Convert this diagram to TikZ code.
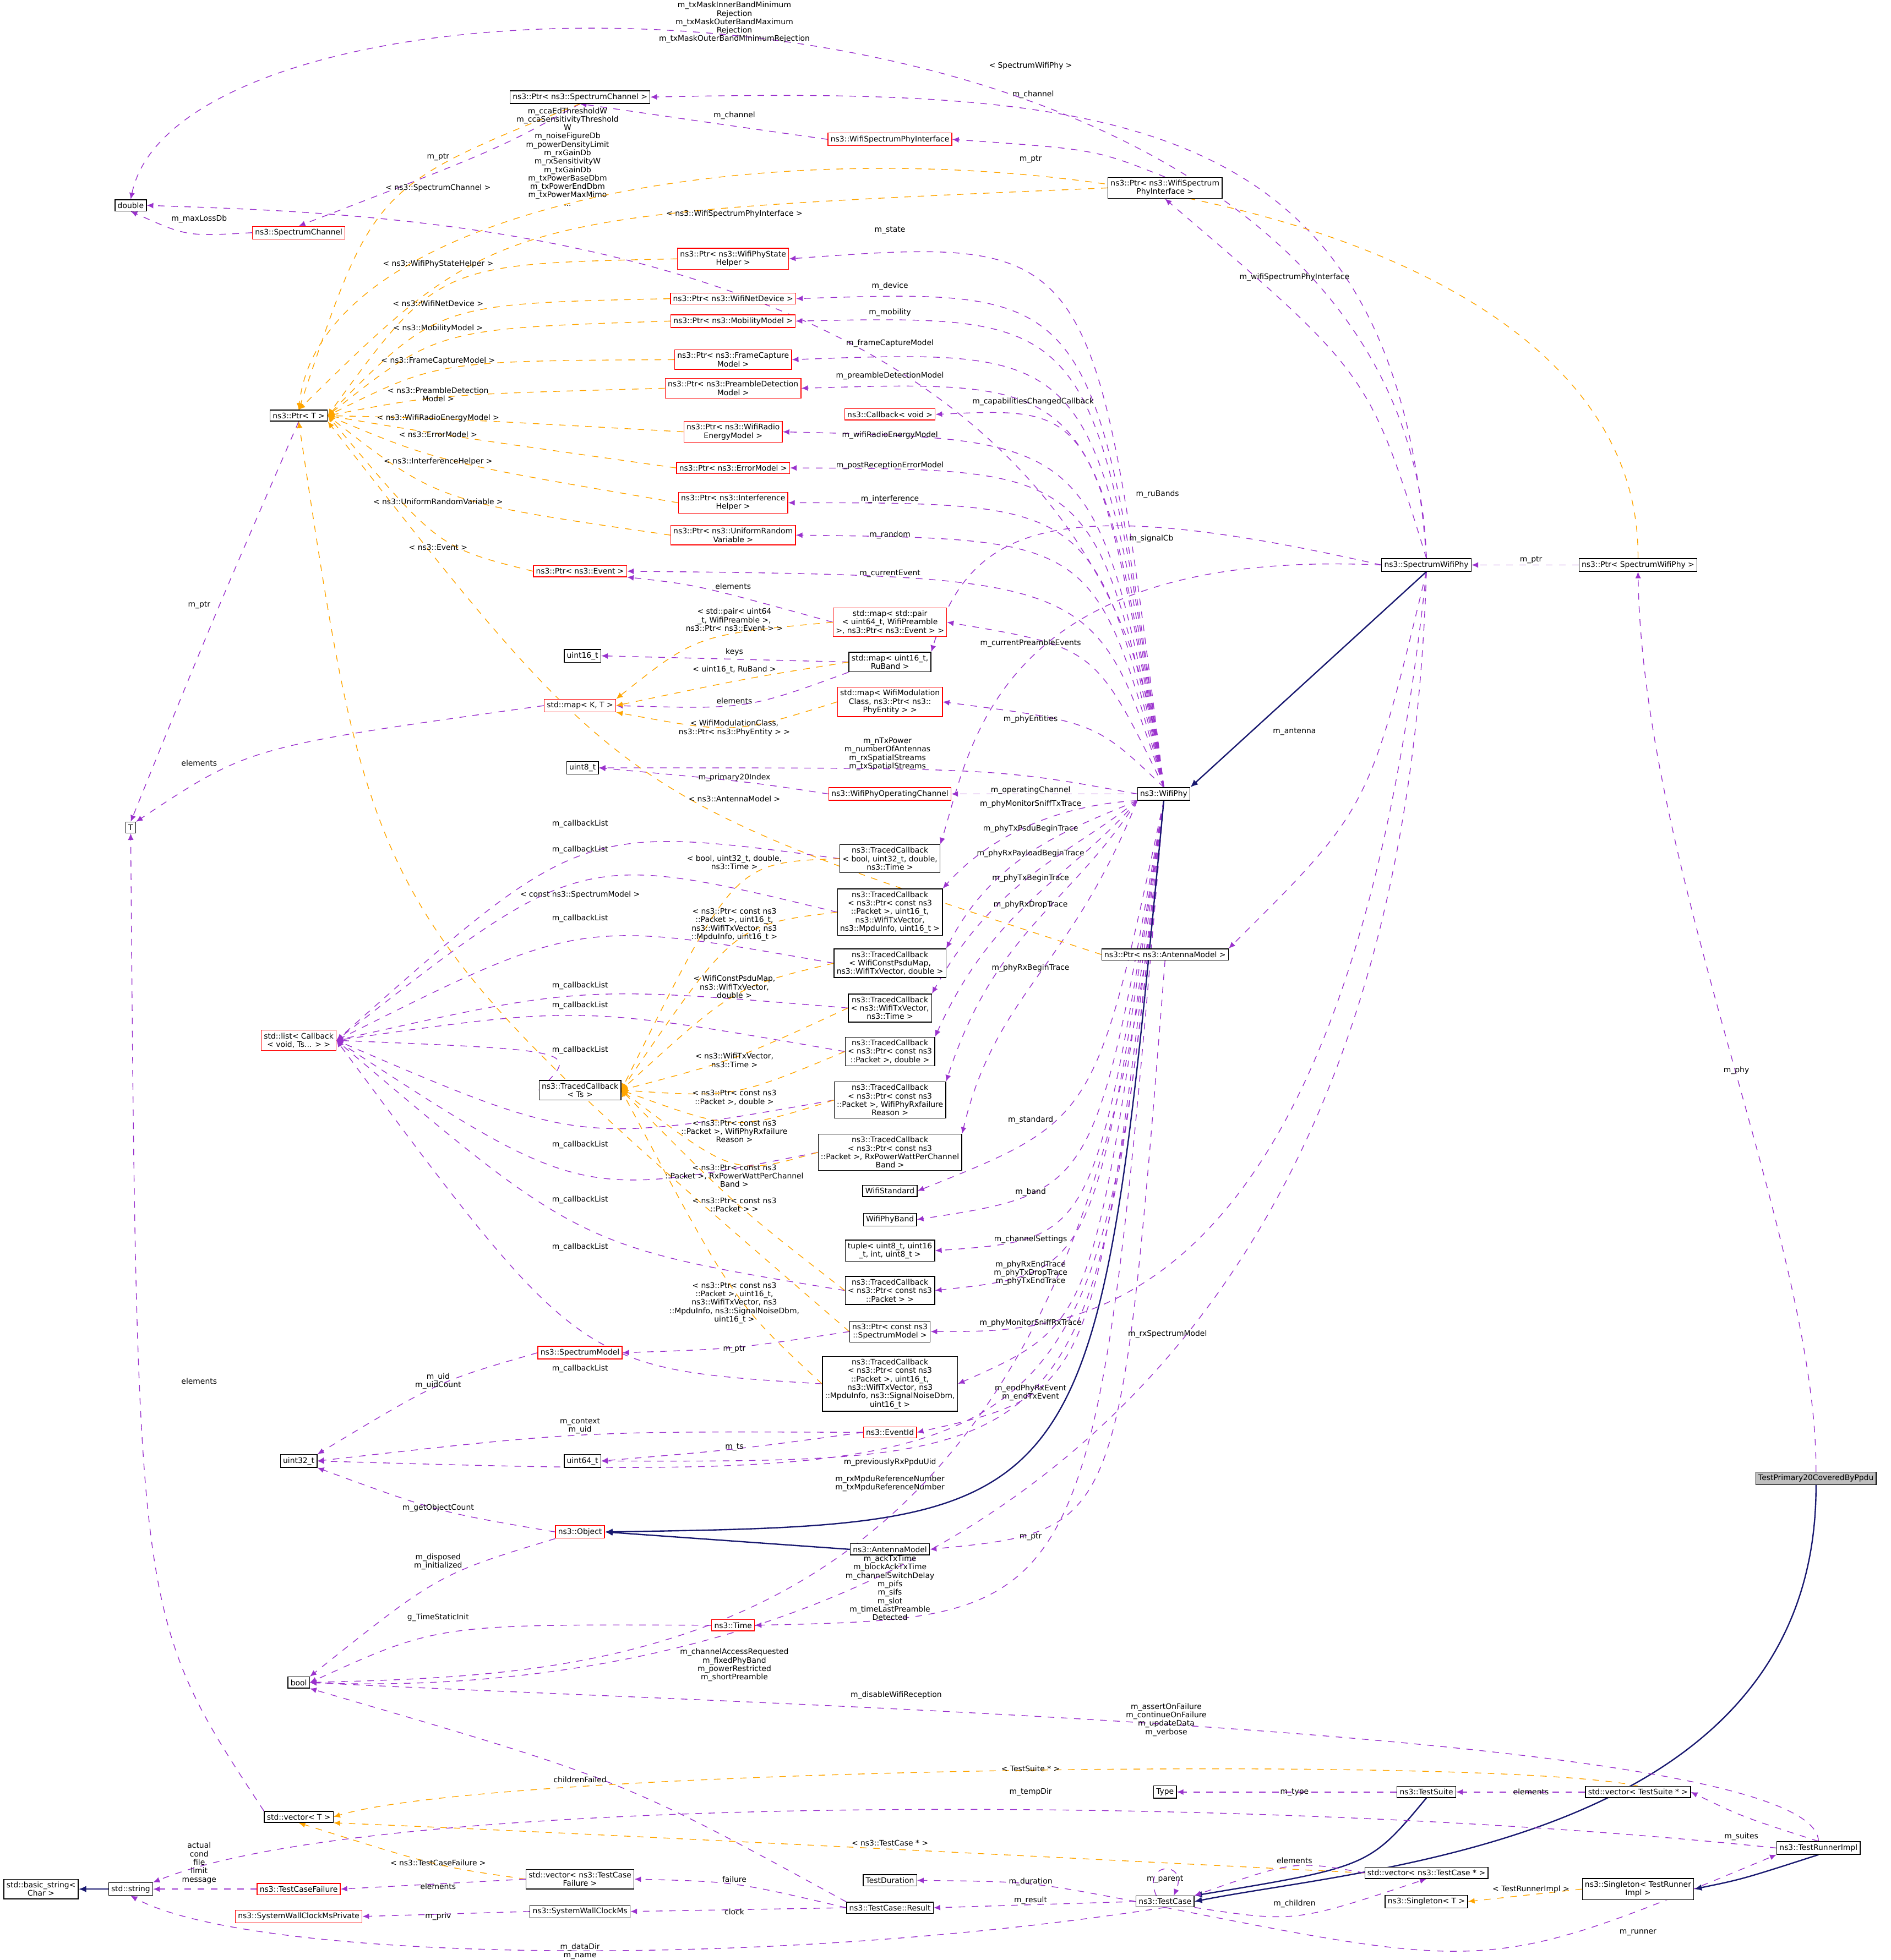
\documentclass[tikz,border=0pt]{standalone}
\usepackage{fontspec}
\setmainfont{DejaVu Sans}
\usetikzlibrary{arrows.meta}
\pgfdeclarelayer{bg}\pgfsetlayers{bg,main}
\definecolor{usec}{RGB}{154,50,205}
\definecolor{tmc}{RGB}{255,165,0}
\definecolor{inc}{RGB}{25,25,112}
\def\fs{\fontsize{3.5}{3.85}\selectfont}
\tikzset{
 box/.style={draw=black,fill=white,inner sep=1.2pt,align=center,font=\fs,line width=0.35pt},
 rbox/.style={box,draw=red},
 gbox/.style={box,fill=black!25},
 lbl/.style={font=\fs,align=center,inner sep=0pt},
 use/.style={draw=usec,dashed,line width=0.35pt,-{Latex[length=3pt,width=2.6pt]}},
 tmpl/.style={draw=tmc,dashed,line width=0.35pt,-{Latex[length=3pt,width=2.6pt]}},
 inh/.style={draw=inc,line width=0.6pt,-{Latex[length=3.5pt,width=3pt]}}
}
\begin{document}
\begin{tikzpicture}[x=0.02cm,y=-0.02cm]
\useasboundingbox (0,0) rectangle (1519,1575);
% nodes
\node[box] (dbl) at (105,165) {double};
\node[box] (pSC) at (466,78) {ns3::Ptr< ns3::SpectrumChannel >};
\node[rbox] (SC) at (240,187) {ns3::SpectrumChannel};
\node[rbox] (WSPI) at (715,112) {ns3::WifiSpectrumPhyInterface};
\node[box] (pWSPI) at (936,151) {ns3::Ptr< ns3::WifiSpectrum\\PhyInterface >};
\node[rbox] (pPSH) at (589,208) {ns3::Ptr< ns3::WifiPhyState\\Helper >};
\node[rbox] (pND) at (589,240) {ns3::Ptr< ns3::WifiNetDevice >};
\node[rbox] (pMM) at (589,258) {ns3::Ptr< ns3::MobilityModel >};
\node[rbox] (pFC) at (589,289) {ns3::Ptr< ns3::FrameCapture\\Model >};
\node[rbox] (pPD) at (589,312) {ns3::Ptr< ns3::PreambleDetection\\Model >};
\node[box] (pT) at (240,334) {ns3::Ptr< T >};
\node[rbox] (cbv) at (715,333) {ns3::Callback< void >};
\node[rbox] (pRE) at (589,347) {ns3::Ptr< ns3::WifiRadio\\EnergyModel >};
\node[rbox] (pEM) at (589,376) {ns3::Ptr< ns3::ErrorModel >};
\node[rbox] (pIH) at (589,404) {ns3::Ptr< ns3::Interference\\Helper >};
\node[rbox] (pUR) at (589,430) {ns3::Ptr< ns3::UniformRandom\\Variable >};
\node[rbox] (pEv) at (466,459) {ns3::Ptr< ns3::Event >};
\node[rbox] (mPair) at (715,500) {std::map< std::pair\\< uint64\_t, WifiPreamble\\>, ns3::Ptr< ns3::Event > >};
\node[box] (u16) at (468,527) {uint16\_t};
\node[box] (mRu) at (715,532) {std::map< uint16\_t,\\RuBand >};
\node[rbox] (mKT) at (466,567) {std::map< K, T >};
\node[rbox] (mMod) at (715,564) {std::map< WifiModulation\\Class, ns3::Ptr< ns3::\\PhyEntity > >};
\node[box] (u8) at (468,617) {uint8\_t};
\node[rbox] (opc) at (715,638) {ns3::WifiPhyOperatingChannel};
\node[box] (T) at (105,665) {T};
\node[box] (wp) at (935,638) {ns3::WifiPhy};
\node[box] (swp) at (1146,454) {ns3::SpectrumWifiPhy};
\node[box] (pSWP) at (1316,454) {ns3::Ptr< SpectrumWifiPhy >};
\node[box] (tc1) at (715,690) {ns3::TracedCallback\\< bool, uint32\_t, double,\\ns3::Time >};
\node[box] (tc2) at (715,733) {ns3::TracedCallback\\< ns3::Ptr< const ns3\\::Packet >, uint16\_t,\\ns3::WifiTxVector,\\ns3::MpduInfo, uint16\_t >};
\node[box] (tc3) at (715,774) {ns3::TracedCallback\\< WifiConstPsduMap,\\ns3::WifiTxVector, double >};
\node[box] (pAM) at (936,767) {ns3::Ptr< ns3::AntennaModel >};
\node[box] (tc4) at (715,810) {ns3::TracedCallback\\< ns3::WifiTxVector,\\ns3::Time >};
\node[rbox] (lst) at (240,836) {std::list< Callback\\< void, Ts... > >};
\node[box] (tc5) at (715,845) {ns3::TracedCallback\\< ns3::Ptr< const ns3\\::Packet >, double >};
\node[box] (tcT) at (466,876) {ns3::TracedCallback\\< Ts >};
\node[box] (tc6) at (715,884) {ns3::TracedCallback\\< ns3::Ptr< const ns3\\::Packet >, WifiPhyRxfailure\\Reason >};
\node[box] (tc7) at (715,926) {ns3::TracedCallback\\< ns3::Ptr< const ns3\\::Packet >, RxPowerWattPerChannel\\Band >};
\node[box] (wstd) at (715,957) {WifiStandard};
\node[box] (wband) at (715,980) {WifiPhyBand};
\node[box] (tup) at (715,1005) {tuple< uint8\_t, uint16\\\_t, int, uint8\_t >};
\node[box] (tc8) at (715,1037) {ns3::TracedCallback\\< ns3::Ptr< const ns3\\::Packet > >};
\node[box] (pCSM) at (715,1070) {ns3::Ptr< const ns3\\::SpectrumModel >};
\node[rbox] (SM) at (466,1087) {ns3::SpectrumModel};
\node[box] (tc9) at (715,1112) {ns3::TracedCallback\\< ns3::Ptr< const ns3\\::Packet >, uint16\_t,\\ns3::WifiTxVector, ns3\\::MpduInfo, ns3::SignalNoiseDbm,\\uint16\_t >};
\node[rbox] (eid) at (715,1151) {ns3::EventId};
\node[box] (u32) at (240,1174) {uint32\_t};
\node[box] (u64) at (468,1174) {uint64\_t};
\node[rbox] (obj) at (466,1231) {ns3::Object};
\node[box] (am) at (715,1245) {ns3::AntennaModel};
\node[rbox] (time) at (589,1306) {ns3::Time};
\node[box] (bool) at (240,1352) {bool};
\node[gbox] (tp) at (1459,1188) {TestPrimary20CoveredByPpdu};
\node[box] (type) at (936,1440) {Type};
\node[box] (ts) at (1146,1440) {ns3::TestSuite};
\node[box] (vTS) at (1316,1440) {std::vector< TestSuite * >};
\node[box] (vT) at (240,1460) {std::vector< T >};
\node[box] (tdur) at (715,1511) {TestDuration};
\node[box] (vTCF) at (466,1510) {std::vector< ns3::TestCase\\Failure >};
\node[box] (vTC) at (1146,1505) {std::vector< ns3::TestCase * >};
\node[box] (tri) at (1461,1485) {ns3::TestRunnerImpl};
\node[box] (bstr) at (33,1518) {std::basic\_string<\\Char >};
\node[box] (str) at (105,1518) {std::string};
\node[rbox] (tcf) at (240,1518) {ns3::TestCaseFailure};
\node[box] (sgTR) at (1316,1518) {ns3::Singleton< TestRunner\\Impl >};
\node[box] (tcase) at (936,1528) {ns3::TestCase};
\node[box] (sgT) at (1146,1528) {ns3::Singleton< T >};
\node[box] (swc) at (466,1536) {ns3::SystemWallClockMs};
\node[box] (res) at (715,1533) {ns3::TestCase::Result};
\node[rbox] (swcp) at (240,1540) {ns3::SystemWallClockMsPrivate};

\begin{pgfonlayer}{bg}
% SpectrumWifiPhy
\draw[use] (swp.north) .. controls (1130,-55) and (150,-55) .. (dbl.north);
\draw[use] (swp.north) .. controls (1120,90) and (900,70) .. (pSC.east);
\draw[use] (swp.north) .. controls (1100,300) .. (pWSPI.south);
\draw[use] (swp.west) .. controls (850,395) and (780,420) .. (mRu.north east);
\draw[use] (swp.west) .. controls (800,440) and (780,600) .. (tc1.north east);
\draw[use] (swp.south) .. controls (1100,650) .. (pAM.north east);
\draw[use] (swp.south) .. controls (1120,1300) and (500,1362) .. (bool.east);
\draw[use] (swp.south) .. controls (1080,1080) and (850,1070) .. (pCSM.east);
\draw[use] (pSWP.west) -- (swp.east);
\draw[use] (tp.north) .. controls (1460,1000) and (1320,700) .. (pSWP.south);
\draw[inh] (swp.south) -- (wp.north east);
% small
\draw[use] (pSC.south) .. controls (400,120) .. (SC.north);
\draw[use] (WSPI.west) .. controls (580,100) .. (pSC.south);
\draw[use] (pWSPI.north) .. controls (880,120) .. (WSPI.east);
\draw[use] (SC.west) .. controls (150,190) .. (dbl.south);
\draw[use] (wp.north) .. controls (880,175) and (300,172) .. (dbl.east);
% WifiPhy to left
\foreach \t/\yy in {pPSH/190,pND/232,pMM/253,pFC/280,pPD/305,cbv/327,pRE/353,pEM/377,pIH/404,pUR/433,pEv/463,mPair/520,mMod/580}{
 \draw[use] (wp.north) .. controls (880,\yy) .. (\t.east);}
\draw[use] (wp.west) .. controls (800,617) .. (u8.east);
\draw[use] (wp.west) -- (opc.east);
\foreach \t/\yy in {tc2/646,tc3/666,tc4/686,tc5/706,tc6/727,tc7/778}{
 \draw[use] (wp.south west) .. controls (860,\yy) and (800,\yy+20) .. (\t.north east);}
\foreach \t/\yy in {wstd/900,wband/958,tup/996,tc8/1023,tc9/1063,eid/1119,u64/1175,u32/1192}{
 \draw[use] (wp.south) .. controls (880,\yy) .. (\t.east);}
\draw[use] (wp.south) .. controls (880,1300) .. (time.east);
\draw[use] (wp.south) .. controls (880,1340) and (500,1345) .. (bool.east);
% maps
\draw[use] (mPair.west) .. controls (560,470) .. (pEv.south east);
\draw[use] (mRu.west) -- (u16.east);
\draw[use] (mRu.south west) .. controls (600,570) .. (mKT.east);
\draw[use] (mKT.west) .. controls (200,600) .. (T.north east);
\draw[use] (pT.south) .. controls (170,500) .. (T.north);
\draw[use] (opc.west) .. controls (600,628) .. (u8.east);
% callbackList
\foreach \t/\yy in {tc1/662,tc2/683,tc3/738,tc4/792,tc5/808,tcT/844,tc6/920,tc7/964,tc8/1002,tc9/1100}{
 \draw[use] (\t.west) .. controls (466,\yy) .. (lst.east);}
% templates to Ptr<T>
\foreach \t/\yy in {pPSH/212,pND/244,pMM/264,pFC/290,pPD/317,pRE/336,pEM/349,pIH/371,pUR/403,pEv/440}{
 \draw[tmpl] (\t.west) .. controls (352,\yy) .. (pT.east);}
\draw[tmpl] (pSC.south) .. controls (300,150) .. (pT.north);
\draw[tmpl] (pWSPI.west) .. controls (400,172) .. (pT.north);
\draw[tmpl] (pSWP.north) .. controls (1320,60) and (270,50) .. (pT.north);
\draw[tmpl] (pAM.west) .. controls (500,642) .. (pT.south east);
\draw[tmpl] (pCSM.west) .. controls (300,740) .. (pT.south);
\draw[tmpl] (mPair.west) .. controls (560,510) .. (mKT.north east);
\draw[tmpl] (mRu.west) .. controls (600,545) .. (mKT.east);
\draw[tmpl] (mMod.west) .. controls (590,590) .. (mKT.south east);
\foreach \t/\yy in {tc1/693,tc2/743,tc3/793,tc4/852,tc5/882,tc6/909,tc7/945,tc8/968,tc9/1047}{
 \draw[tmpl] (\t.west) .. controls (590,\yy) .. (tcT.east);}
\draw[tmpl] (vTS.north) .. controls (1200,1410) and (400,1420) .. (vT.east);
\draw[tmpl] (vTC.west) .. controls (700,1485) and (400,1470) .. (vT.south east);
\draw[tmpl] (vTCF.west) .. controls (352,1500) .. (vT.south);
\draw[tmpl] (sgTR.west) -- (sgT.east);
% lower
\draw[use] (pCSM.west) .. controls (590,1084) .. (SM.east);
\draw[use] (SM.west) .. controls (352,1110) .. (u32.north east);
\draw[use] (eid.west) .. controls (466,1150) .. (u32.east);
\draw[use] (eid.west) .. controls (590,1165) .. (u64.east);
\draw[use] (obj.west) .. controls (352,1215) .. (u32.south east);
\draw[use] (obj.south west) .. controls (352,1265) .. (bool.north east);
\draw[use] (time.west) .. controls (352,1305) .. (bool.east);
\draw[use] (pAM.south) .. controls (900,1230) .. (am.east);
\draw[inh] (wp.south) .. controls (880,1225) .. (obj.east);
\draw[inh] (am.west) -- (obj.east);
% test part
\draw[inh] (str.west) -- (bstr.east);
\draw[inh] (ts.south) .. controls (1100,1500) .. (tcase.north east);
\draw[inh] (tp.south) .. controls (1460,1480) and (1100,1500) .. (tcase.east);
\draw[inh] (tri.south) .. controls (1400,1510) .. (sgTR.east);
\draw[use] (tcase.south) .. controls (1200,1585) .. (tri.south west);
\draw[use] (tri.north) .. controls (1400,1460) .. (vTS.east);
\draw[use] (tri.west) .. controls (1000,1440) and (300,1440) .. (str.north east);
\draw[use] (tri.north) .. controls (1460,1390) and (600,1370) .. (bool.east);
\draw[use] (res.north west) .. controls (500,1430) .. (bool.south east);
\draw[use] (ts.west) -- (type.east);
\draw[use] (vTS.west) -- (ts.east);
\draw[use] (vTC.west) .. controls (1040,1495) .. (tcase.north east);
\draw[use] (tcase.south east) .. controls (1040,1545) .. (vTC.south);
\draw[use] ([xshift=-4pt]tcase.north) .. controls +(-12,-28) and +(12,-28) .. ([xshift=4pt]tcase.north);
\draw[use] (tcase.west) .. controls (828,1512) .. (tdur.east);
\draw[use] (tcase.west) -- (res.east);
\draw[use] (tcase.south) .. controls (600,1585) and (200,1575) .. (str.south);
\draw[use] (tcf.west) -- (str.east);
\draw[use] (vT.north west) .. controls (110,1300) .. (T.south);
\draw[use] (vTCF.west) -- (tcf.east);
\draw[use] (res.west) .. controls (590,1512) .. (vTCF.east);
\draw[use] (res.west) -- (swc.east);
\draw[use] (swc.west) -- (swcp.east);
\end{pgfonlayer}

% labels
\node[lbl] at (590,18) {m\_txMaskInnerBandMinimum\\Rejection\\m\_txMaskOuterBandMaximum\\Rejection\\m\_txMaskOuterBandMinimumRejection};
\node[lbl] at (830,76) {m\_channel};
\node[lbl] at (1040,223) {m\_wifiSpectrumPhyInterface};
\node[lbl] at (930,397) {m\_ruBands};
\node[lbl] at (925,433) {m\_signalCb};
\node[lbl] at (1040,588) {m\_antenna};
\node[lbl] at (720,1362) {m\_disableWifiReception};
\node[lbl] at (938,1072) {m\_rxSpectrumModel};
\node[lbl] at (1230,450) {m\_ptr};
\node[lbl] at (1395,860) {m\_phy};
\node[lbl] at (352,126) {m\_ptr};
\node[lbl] at (590,93) {m\_channel};
\node[lbl] at (828,128) {m\_ptr};
\node[lbl] at (160,176) {m\_maxLossDb};
\node[lbl] at (456,126) {m\_ccaEdThresholdW\\m\_ccaSensitivityThreshold\\W\\m\_noiseFigureDb\\m\_powerDensityLimit\\m\_rxGainDb\\m\_rxSensitivityW\\m\_txGainDb\\m\_txPowerBaseDbm\\m\_txPowerEndDbm\\m\_txPowerMaxMimo\\...};
\node[lbl] at (715,185) {m\_state};
\node[lbl] at (715,230) {m\_device};
\node[lbl] at (715,251) {m\_mobility};
\node[lbl] at (715,276) {m\_frameCaptureModel};
\node[lbl] at (715,302) {m\_preambleDetectionModel};
\node[lbl] at (830,323) {m\_capabilitiesChangedCallback};
\node[lbl] at (715,350) {m\_wifiRadioEnergyModel};
\node[lbl] at (715,374) {m\_postReceptionErrorModel};
\node[lbl] at (715,401) {m\_interference};
\node[lbl] at (715,430) {m\_random};
\node[lbl] at (715,461) {m\_currentEvent};
\node[lbl] at (828,517) {m\_currentPreambleEvents};
\node[lbl] at (828,578) {m\_phyEntities};
\node[lbl] at (713,606) {m\_nTxPower\\m\_numberOfAntennas\\m\_rxSpatialStreams\\m\_txSpatialStreams};
\node[lbl] at (828,635) {m\_operatingChannel};
\node[lbl] at (828,646) {m\_phyMonitorSniffTxTrace};
\node[lbl] at (828,666) {m\_phyTxPsduBeginTrace};
\node[lbl] at (828,686) {m\_phyRxPayloadBeginTrace};
\node[lbl] at (828,706) {m\_phyTxBeginTrace};
\node[lbl] at (828,727) {m\_phyRxDropTrace};
\node[lbl] at (828,778) {m\_phyRxBeginTrace};
\node[lbl] at (828,900) {m\_standard};
\node[lbl] at (828,958) {m\_band};
\node[lbl] at (828,996) {m\_channelSettings};
\node[lbl] at (828,1023) {m\_phyRxEndTrace\\m\_phyTxDropTrace\\m\_phyTxEndTrace};
\node[lbl] at (828,1063) {m\_phyMonitorSniffRxTrace};
\node[lbl] at (828,1119) {m\_endPhyRxEvent\\m\_endTxEvent};
\node[lbl] at (715,1175) {m\_previouslyRxPpduUid};
\node[lbl] at (715,1192) {m\_rxMpduReferenceNumber\\m\_txMpduReferenceNumber};
\node[lbl] at (715,1276) {m\_ackTxTime\\m\_blockAckTxTime\\m\_channelSwitchDelay\\m\_pifs\\m\_sifs\\m\_slot\\m\_timeLastPreamble\\Detected};
\node[lbl] at (590,1338) {m\_channelAccessRequested\\m\_fixedPhyBand\\m\_powerRestricted\\m\_shortPreamble};
\node[lbl] at (589,471) {elements};
\node[lbl] at (590,524) {keys};
\node[lbl] at (590,563) {elements};
\node[lbl] at (160,613) {elements};
\node[lbl] at (160,486) {m\_ptr};
\node[lbl] at (590,625) {m\_primary20Index};
\foreach \yy in {662,683,738,792,808,844,920,964,1002,1100}{\node[lbl] at (466,\yy) {m\_callbackList};}
\node[lbl] at (352,151) {< ns3::SpectrumChannel >};
\node[lbl] at (590,172) {< ns3::WifiSpectrumPhyInterface >};
\node[lbl] at (828,53) {< SpectrumWifiPhy >};
\node[lbl] at (352,212) {< ns3::WifiPhyStateHelper >};
\node[lbl] at (352,244) {< ns3::WifiNetDevice >};
\node[lbl] at (352,264) {< ns3::MobilityModel >};
\node[lbl] at (352,290) {< ns3::FrameCaptureModel >};
\node[lbl] at (352,317) {< ns3::PreambleDetection\\Model >};
\node[lbl] at (352,336) {< ns3::WifiRadioEnergyModel >};
\node[lbl] at (352,349) {< ns3::ErrorModel >};
\node[lbl] at (352,371) {< ns3::InterferenceHelper >};
\node[lbl] at (352,403) {< ns3::UniformRandomVariable >};
\node[lbl] at (352,440) {< ns3::Event >};
\node[lbl] at (590,642) {< ns3::AntennaModel >};
\node[lbl] at (466,719) {< const ns3::SpectrumModel >};
\node[lbl] at (590,498) {< std::pair< uint64\\\_t, WifiPreamble >,\\ns3::Ptr< ns3::Event > >};
\node[lbl] at (590,538) {< uint16\_t, RuBand >};
\node[lbl] at (590,585) {< WifiModulationClass,\\ns3::Ptr< ns3::PhyEntity > >};
\node[lbl] at (590,693) {< bool, uint32\_t, double,\\ns3::Time >};
\node[lbl] at (590,743) {< ns3::Ptr< const ns3\\::Packet >, uint16\_t,\\ns3::WifiTxVector, ns3\\::MpduInfo, uint16\_t >};
\node[lbl] at (590,793) {< WifiConstPsduMap,\\ns3::WifiTxVector,\\double >};
\node[lbl] at (590,852) {< ns3::WifiTxVector,\\ns3::Time >};
\node[lbl] at (590,882) {< ns3::Ptr< const ns3\\::Packet >, double >};
\node[lbl] at (590,909) {< ns3::Ptr< const ns3\\::Packet >, WifiPhyRxfailure\\Reason >};
\node[lbl] at (590,945) {< ns3::Ptr< const ns3\\::Packet >, RxPowerWattPerChannel\\Band >};
\node[lbl] at (590,968) {< ns3::Ptr< const ns3\\::Packet > >};
\node[lbl] at (590,1047) {< ns3::Ptr< const ns3\\::Packet >, uint16\_t,\\ns3::WifiTxVector, ns3\\::MpduInfo, ns3::SignalNoiseDbm,\\uint16\_t >};
\node[lbl] at (828,1421) {< TestSuite * >};
\node[lbl] at (715,1481) {< ns3::TestCase * >};
\node[lbl] at (352,1497) {< ns3::TestCaseFailure >};
\node[lbl] at (1230,1518) {< TestRunnerImpl >};
\node[lbl] at (590,1084) {m\_ptr};
\node[lbl] at (352,1110) {m\_uid\\m\_uidCount};
\node[lbl] at (466,1146) {m\_context\\m\_uid};
\node[lbl] at (590,1163) {m\_ts};
\node[lbl] at (352,1212) {m\_getObjectCount};
\node[lbl] at (352,1255) {m\_disposed\\m\_initialized};
\node[lbl] at (352,1300) {g\_TimeStaticInit};
\node[lbl] at (828,1235) {m\_ptr};
\node[lbl] at (937,1382) {m\_assertOnFailure\\m\_continueOnFailure\\m\_updateData\\m\_verbose};
\node[lbl] at (828,1440) {m\_tempDir};
\node[lbl] at (1399,1476) {m\_suites};
\node[lbl] at (1040,1440) {m\_type};
\node[lbl] at (1230,1440) {elements};
\node[lbl] at (1040,1495) {elements};
\node[lbl] at (1040,1530) {m\_children};
\node[lbl] at (936,1510) {m\_parent};
\node[lbl] at (828,1512) {m\_duration};
\node[lbl] at (828,1527) {m\_result};
\node[lbl] at (1316,1553) {m\_runner};
\node[lbl] at (466,1568) {m\_dataDir\\m\_name};
\node[lbl] at (466,1430) {childrenFailed};
\node[lbl] at (590,1510) {failure};
\node[lbl] at (590,1536) {clock};
\node[lbl] at (352,1540) {m\_priv};
\node[lbl] at (352,1516) {elements};
\node[lbl] at (160,1497) {actual\\cond\\file\\limit\\message};
\node[lbl] at (160,1110) {elements};
\end{tikzpicture}
\end{document}
